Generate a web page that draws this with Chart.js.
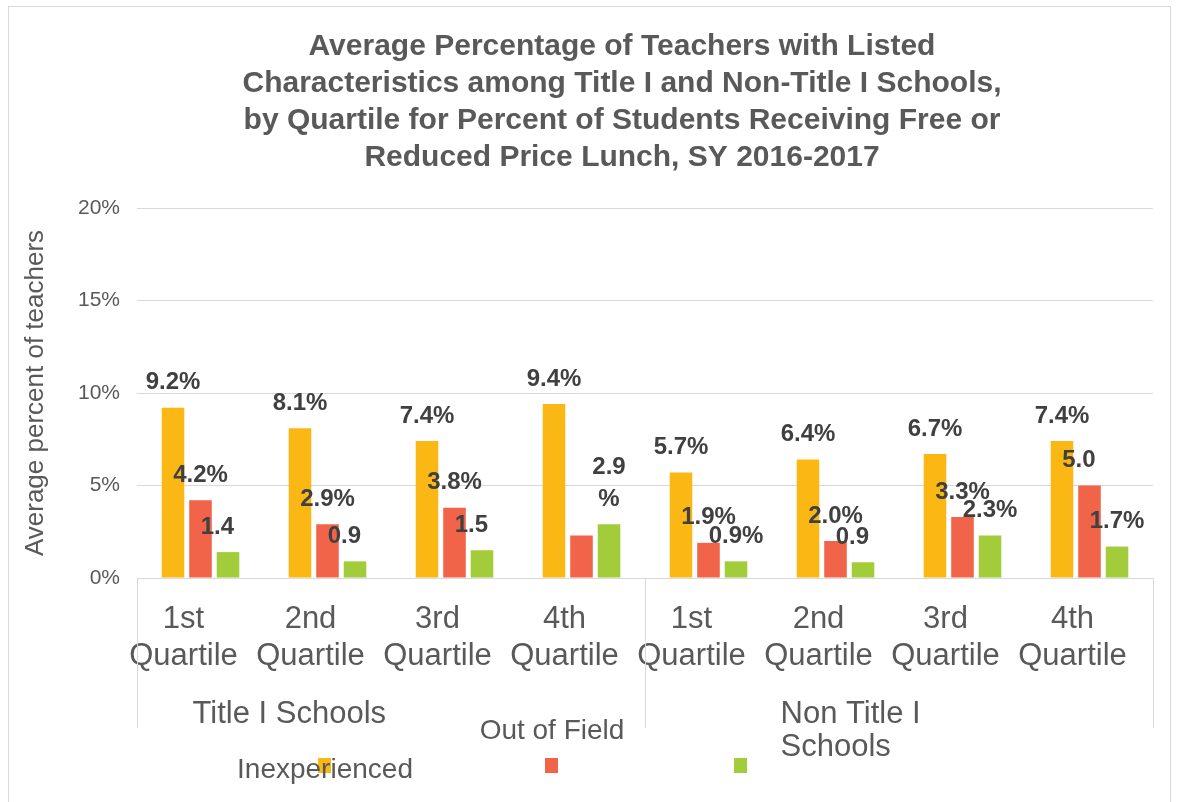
<!DOCTYPE html>
<html>
<head>
<meta charset="utf-8">
<script src="https://cdn.jsdelivr.net/npm/chart.js@4"></script>
<style>
  html, body { margin: 0; padding: 0; background: #fff; }
  #wrap { width: 1178px; height: 802px; }
</style>
</head>
<body>
<div id="wrap"><canvas id="teachers"></canvas></div>
<script>
const titleLines = [
    'Average Percentage of Teachers with Listed',
    'Characteristics among Title I and Non-Title I Schools,',
    'by Quartile for Percent of Students Receiving Free or',
    'Reduced Price Lunch, SY 2016-2017'
];
const categories = [
    ['1st', 'Quartile'], ['2nd', 'Quartile'], ['3rd', 'Quartile'], ['4th', 'Quartile'],
    ['1st', 'Quartile'], ['2nd', 'Quartile'], ['3rd', 'Quartile'], ['4th', 'Quartile']
];
const groups = [['Title I Schools'], ['Non Title I', 'Schools']];
const seriesNames = ['Inexperienced', 'Out of Field', ''];
const inexperienced = [9.2, 8.1, 7.4, 9.4, 5.7, 6.4, 6.7, 7.4];
const outOfField = [4.2, 2.9, 3.8, 2.3, 1.9, 2.0, 3.3, 5.0];
const thirdSeries = [1.4, 0.9, 1.5, 2.9, 0.9, 0.85, 2.3, 1.7];
const inexperiencedLabels = ['9.2%', '8.1%', '7.4%', '9.4%', '5.7%', '6.4%', '6.7%', '7.4%'];
const outOfFieldLabels = ['4.2%', '2.9%', '3.8%', '', '1.9%', '2.0%', '3.3%', '5.0'];
const thirdLabels = ['1.4', '0.9', '1.5', ['2.9', '%'], '0.9%', '0.9', '2.3%', '1.7%'];
const yTicks = [0, 5, 10, 15, 20];

const colors = ['#FBB714', '#F1644A', '#A2CC3A'];
const FONT = "'Liberation Sans', Arial, sans-serif";
const GREY = '#595959';

document.addEventListener('DOMContentLoaded', function () {
    const ctx = document.getElementById('teachers').getContext('2d');

    const pointLabels = [inexperiencedLabels, outOfFieldLabels, thirdLabels];

    // white background, chart border and the title (sits right of the chart centre, as in Excel)
    const frame = {
        id: 'frame',
        beforeDraw(chart) {
            const c = chart.ctx;
            c.save();
            c.fillStyle = '#fff';
            c.fillRect(0, 0, chart.width, chart.height);
            c.strokeStyle = '#d9d9d9';
            c.lineWidth = 1;
            c.strokeRect(8.5, 6.5, 1162, 810);
            c.fillStyle = GREY;
            c.font = 'bold 30px ' + FONT;
            c.textAlign = 'center';
            c.textBaseline = 'middle';
            titleLines.forEach(function (line, i) {
                c.fillText(line, 622, 47 + i * 37);
            });
            c.restore();
        }
    };

    // value labels above the bars
    const valueLabels = {
        id: 'valueLabels',
        afterDatasetsDraw(chart) {
            const c = chart.ctx;
            c.save();
            c.font = 'bold 24px ' + FONT;
            c.fillStyle = '#404040';
            c.textBaseline = 'middle';
            chart.data.datasets.forEach(function (ds, i) {
                const meta = chart.getDatasetMeta(i);
                meta.data.forEach(function (bar, j) {
                    const txt = pointLabels[i][j];
                    if (!txt) return;
                    if (Array.isArray(txt)) {
                        c.textAlign = 'center';
                        txt.forEach(function (line, k) {
                            c.fillText(line, bar.x, bar.y - 25 - (txt.length - 1 - k) * 32);
                        });
                    } else {
                        const full = txt.endsWith('%') ? txt : txt + '%';
                        c.textAlign = 'left';
                        c.fillText(txt, bar.x - c.measureText(full).width / 2, bar.y - 25);
                    }
                });
            });
            c.restore();
        }
    };

    // two-level category axis: separators, group names, legend
    const groupAxis = {
        id: 'groupAxis',
        afterDraw(chart) {
            const c = chart.ctx;
            const x = chart.scales.x;
            const area = chart.chartArea;
            const mid = (x.getPixelForValue(3) + x.getPixelForValue(4)) / 2;
            c.save();
            c.strokeStyle = '#d9d9d9';
            c.lineWidth = 1;
            [x.left, mid, x.right].forEach(function (px) {
                c.beginPath();
                c.moveTo(Math.round(px) + 0.5, area.bottom);
                c.lineTo(Math.round(px) + 0.5, area.bottom + 150);
                c.stroke();
            });

            c.fillStyle = GREY;
            c.font = '31px ' + FONT;
            c.textAlign = 'left';
            c.textBaseline = 'middle';
            const starts = [x.getPixelForValue(0) - 8, x.getPixelForValue(4) + 72];
            groups.forEach(function (g, i) {
                g.forEach(function (line, k) {
                    c.fillText(line, starts[i], area.bottom + 136 + k * 33);
                });
            });

            // legend
            c.font = '28px ' + FONT;
            c.textAlign = 'center';
            const boxX = [318, 545, 734];
            const textY = [770, 731, 770];
            chart.data.datasets.forEach(function (ds, i) {
                c.fillStyle = ds.backgroundColor;
                c.fillRect(boxX[i], 758, 13, 15);
                c.fillStyle = GREY;
                if (ds.label) c.fillText(ds.label, boxX[i] + 7, textY[i]);
            });
            c.restore();
        }
    };

    const data = {
        labels: categories,
        datasets: [
            { label: seriesNames[0], data: inexperienced, backgroundColor: colors[0] },
            { label: seriesNames[1], data: outOfField, backgroundColor: colors[1] },
            { label: seriesNames[2], data: thirdSeries, backgroundColor: colors[2] }
        ]
    };

    const options = {
        responsive: true,
        maintainAspectRatio: false,
        animation: false,
        categoryPercentage: 0.65,
        barPercentage: 0.82,
        layout: { padding: { left: 12, right: 25, top: 208, bottom: 0 } },
        plugins: {
            legend: { display: false },
            tooltip: { enabled: false },
            title: { display: false }
        },
        scales: {
            x: {
                grid: { display: false },
                border: { display: true, color: '#d9d9d9' },
                ticks: {
                    color: GREY,
                    font: { family: FONT, size: 31, lineHeight: 1.2 },
                    padding: 15,
                    labelOffset: -17,
                    maxRotation: 0,
                    autoSkip: false
                },
                afterFit: function (scale) { scale.height = 224; }
            },
            y: {
                min: 0,
                max: 20,
                afterBuildTicks: function (scale) {
                    scale.ticks = yTicks.map(function (v) { return { value: v }; });
                },
                grid: { color: '#d9d9d9', drawTicks: false },
                border: { display: false },
                ticks: {
                    color: GREY,
                    font: { family: FONT, size: 21 },
                    padding: 17,
                    callback: function (value) { return value + '%'; }
                },
                title: {
                    display: true,
                    text: 'Average percent of teachers',
                    color: GREY,
                    font: { family: FONT, size: 26 },
                    padding: { top: 8, bottom: 0 }
                },
                afterFit: function (scale) { scale.width = 125; }
            }
        }
    };

    new Chart(ctx, {
        type: 'bar',
        data: data,
        options: options,
        plugins: [frame, valueLabels, groupAxis]
    });
});
</script>
</body>
</html>
